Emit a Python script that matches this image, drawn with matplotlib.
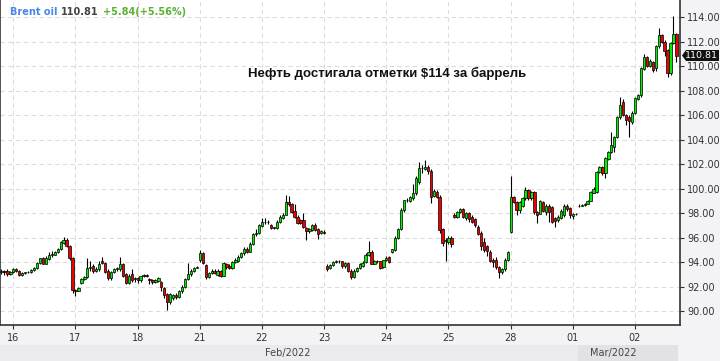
import numpy as np
import matplotlib.pyplot as plt
from matplotlib.patches import Rectangle, Polygon

# --------------------------------
# Hourly Brent candles
# --------------------------------
opens = [
    93.20, 93.25, 93.30, 93.05, 93.20, 93.45, 93.30, 92.95, 93.10, 93.15,
    93.15, 93.35, 93.50, 93.90, 94.30, 93.85, 94.25, 94.55, 94.60, 94.80,
    95.05, 95.55, 95.80, 95.30, 94.30, 91.70, 91.65, 92.30, 92.60, 92.75,
    93.50, 93.65, 93.30, 93.40, 94.10, 93.90, 93.30, 92.70, 93.20, 93.40,
    93.40, 93.80, 93.00, 92.30, 93.00, 92.60, 92.70, 92.50, 92.85, 92.95,
    92.60, 92.55, 92.40, 92.45, 92.35, 91.90, 91.40, 90.75, 91.05, 91.30,
    91.15, 91.60, 92.00, 92.60, 93.00, 93.30, 93.55, 94.15, 94.70, 93.75,
    92.80, 93.10, 93.30, 92.95, 93.30, 92.90, 93.85, 93.70, 93.50, 94.00,
    94.10, 94.40, 94.70, 95.10, 94.85, 95.50, 96.30, 96.40, 96.95, 97.30,
    97.25, 97.05, 96.85, 96.80, 97.30, 97.60, 97.85, 98.90, 98.70, 98.20,
    97.70, 97.40, 97.40, 96.80, 96.55, 96.60, 97.00, 96.70, 96.40, 96.45,
    93.70, 93.50, 93.75, 94.00, 94.10, 94.05, 93.70, 93.95, 93.30, 92.80,
    93.30, 93.50, 93.70, 94.00, 94.60, 94.85, 93.85, 94.10, 94.05, 93.60,
    94.15, 94.40, 94.80, 95.00, 96.00, 96.70, 98.25, 99.05, 98.95, 99.20,
    99.60, 100.50, 101.70, 101.60, 101.75, 101.45, 99.40, 99.70, 99.30, 96.70,
    95.70, 95.60, 96.00, 97.85, 97.65, 98.10, 98.30, 97.60, 98.00, 97.70,
    97.50, 96.90, 96.40, 95.60, 95.30, 94.80, 94.20, 94.20, 93.60, 93.15,
    93.40, 94.20, 96.45, 99.30, 98.90, 98.25, 98.60, 99.20, 99.85, 99.20,
    99.70, 98.10, 97.95, 98.90, 98.05, 98.55, 98.50, 97.60, 97.40, 97.60,
    97.80, 98.60, 98.45, 97.75, 97.90, 98.55, 98.60, 98.65, 98.75, 99.00,
    99.65, 99.70, 101.35, 101.75, 101.30, 102.40, 103.00, 103.40, 104.20, 105.80,
    107.10, 106.00, 105.80, 105.40, 106.20, 107.30, 107.60, 109.75, 110.70, 110.00,
    110.30, 109.80, 111.60, 112.50, 112.00, 111.30, 109.40, 111.90, 112.60,
]
highs = [
    93.40, 93.35, 93.40, 93.30, 93.50, 93.55, 93.35, 93.15, 93.20, 93.25,
    93.40, 93.60, 94.00, 94.35, 94.40, 94.50, 94.80, 94.90, 94.90, 95.15,
    95.70, 96.05, 95.95, 95.40, 94.40, 91.80, 92.00, 92.70, 92.90, 94.30,
    94.10, 93.80, 93.60, 94.10, 94.40, 94.00, 93.40, 93.30, 93.50, 93.60,
    94.40, 93.90, 93.10, 93.00, 93.40, 92.80, 92.80, 92.90, 93.00, 93.00,
    92.70, 92.60, 92.60, 92.80, 92.45, 92.00, 91.50, 91.45, 91.40, 91.45,
    91.70, 92.10, 92.70, 93.90, 93.40, 93.60, 93.70, 94.95, 94.80, 93.80,
    93.20, 93.40, 93.40, 93.40, 93.35, 94.00, 93.90, 93.80, 94.10, 94.30,
    94.60, 94.80, 95.20, 95.20, 95.60, 96.40, 96.70, 97.10, 97.60, 97.60,
    97.40, 97.10, 96.90, 97.40, 97.80, 98.00, 99.45, 99.40, 98.80, 98.70,
    97.80, 97.50, 98.00, 96.90, 96.80, 97.10, 97.20, 96.80, 96.60, 96.60,
    93.80, 93.80, 94.10, 94.20, 94.15, 94.10, 94.00, 94.00, 93.40, 93.40,
    93.60, 93.90, 94.10, 94.70, 95.75, 95.00, 94.20, 94.20, 94.10, 94.20,
    94.50, 94.50, 95.10, 96.10, 96.80, 98.40, 99.10, 99.20, 99.40, 100.40,
    101.00, 102.20, 101.90, 102.30, 101.90, 101.60, 100.00, 99.90, 99.50, 96.80,
    96.00, 96.10, 96.10, 98.00, 98.20, 98.40, 98.40, 98.10, 98.10, 97.80,
    97.60, 97.00, 96.50, 96.00, 95.40, 95.00, 94.30, 94.40, 93.70, 93.50,
    94.30, 94.90, 101.00, 99.40, 99.00, 99.00, 99.30, 100.10, 99.95, 99.80,
    99.80, 98.20, 99.10, 99.00, 98.70, 98.70, 98.60, 97.70, 97.80, 98.30,
    98.70, 98.70, 98.50, 98.00, 98.00, 98.70, 98.75, 98.80, 99.05, 99.80,
    100.10, 101.45, 101.85, 101.80, 102.60, 103.10, 104.60, 104.30, 105.90, 107.50,
    107.30, 106.10, 106.00, 106.30, 107.50, 107.70, 109.90, 111.00, 110.80, 110.60,
    110.40, 111.70, 113.10, 112.60, 112.10, 111.40, 112.00, 114.10, 112.70,
]
lows = [
    93.00, 92.95, 92.85, 92.95, 93.10, 93.20, 92.85, 92.90, 93.05, 93.10,
    93.10, 93.30, 93.45, 93.85, 93.80, 93.80, 94.20, 94.40, 94.55, 94.70,
    95.00, 95.50, 95.20, 94.20, 91.50, 91.20, 91.60, 92.20, 92.50, 92.70,
    93.30, 93.10, 93.20, 93.30, 93.80, 93.10, 92.50, 92.50, 93.10, 93.30,
    93.30, 92.80, 92.20, 92.20, 92.40, 92.40, 92.30, 92.40, 92.80, 92.80,
    92.20, 92.20, 92.30, 92.40, 91.60, 91.10, 90.10, 90.60, 90.90, 91.00,
    91.10, 91.50, 91.90, 92.50, 92.90, 93.20, 93.50, 94.00, 93.80, 92.60,
    92.70, 93.00, 93.00, 92.90, 92.80, 92.85, 93.40, 93.40, 93.40, 93.90,
    94.00, 94.30, 94.60, 94.70, 94.80, 95.40, 96.10, 96.30, 96.90, 97.10,
    97.10, 96.70, 96.70, 96.70, 97.20, 97.50, 97.80, 98.60, 98.00, 97.60,
    97.10, 97.10, 96.80, 95.80, 96.40, 96.50, 96.50, 95.90, 96.30, 96.30,
    93.30, 93.40, 93.70, 93.95, 93.90, 93.50, 93.50, 93.20, 92.60, 92.70,
    93.20, 93.40, 93.60, 93.90, 94.50, 93.80, 93.80, 93.90, 93.40, 93.50,
    94.10, 93.90, 94.70, 94.90, 95.90, 96.60, 98.10, 98.90, 98.90, 99.10,
    99.50, 100.40, 101.30, 101.50, 101.20, 98.80, 99.30, 99.20, 96.40, 95.30,
    94.10, 95.50, 95.20, 97.60, 97.60, 98.00, 97.60, 97.40, 97.30, 97.20,
    96.90, 96.20, 95.00, 94.80, 94.50, 94.00, 93.60, 93.40, 92.70, 93.00,
    93.30, 94.10, 96.40, 98.80, 97.80, 98.00, 98.50, 99.10, 99.10, 99.10,
    97.90, 97.20, 97.90, 98.10, 97.80, 97.30, 97.20, 96.90, 97.30, 97.50,
    97.70, 98.20, 97.60, 97.50, 97.85, 98.50, 98.55, 98.60, 98.70, 98.95,
    99.60, 99.60, 101.30, 101.10, 100.90, 102.30, 102.90, 103.00, 104.10, 105.70,
    105.90, 105.20, 104.20, 105.30, 106.10, 107.20, 107.50, 109.70, 109.90, 109.90,
    109.50, 109.60, 111.50, 111.90, 110.80, 109.10, 109.30, 111.80, 110.30,
]
closes = [
    93.25, 93.15, 93.05, 93.20, 93.40, 93.30, 92.95, 93.10, 93.15, 93.20,
    93.35, 93.50, 93.90, 94.30, 93.85, 94.30, 94.55, 94.65, 94.80, 95.05,
    95.60, 95.80, 95.30, 94.30, 91.70, 91.65, 91.90, 92.60, 92.80, 93.50,
    93.60, 93.30, 93.40, 93.85, 93.90, 93.20, 92.70, 93.20, 93.40, 93.50,
    93.80, 92.90, 92.30, 92.90, 92.50, 92.70, 92.50, 92.85, 92.95, 92.85,
    92.50, 92.40, 92.50, 92.70, 91.95, 91.30, 90.75, 91.35, 91.30, 91.15,
    91.60, 92.00, 92.60, 93.05, 93.30, 93.55, 93.60, 94.70, 93.90, 92.75,
    93.10, 93.30, 93.10, 93.30, 92.90, 93.90, 93.60, 93.50, 94.00, 94.15,
    94.45, 94.70, 95.10, 94.85, 95.50, 96.30, 96.40, 97.00, 97.30, 97.25,
    97.30, 96.80, 96.80, 97.30, 97.65, 97.85, 98.90, 98.70, 98.10, 97.70,
    97.20, 97.20, 96.90, 96.55, 96.70, 97.00, 96.60, 96.30, 96.50, 96.40,
    93.45, 93.75, 94.00, 94.10, 94.05, 93.65, 93.90, 93.30, 92.80, 93.30,
    93.50, 93.80, 93.95, 94.60, 94.85, 93.85, 94.10, 94.05, 93.50, 94.15,
    94.35, 94.00, 95.05, 96.00, 96.70, 98.25, 99.05, 99.05, 99.30, 99.60,
    100.90, 101.70, 101.65, 101.75, 101.40, 99.30, 99.80, 99.30, 96.60, 95.55,
    95.80, 95.95, 95.50, 97.65, 98.10, 98.30, 97.70, 98.00, 97.50, 97.30,
    97.00, 96.30, 95.30, 95.00, 94.90, 94.10, 94.00, 93.60, 93.20, 93.40,
    94.20, 94.80, 99.30, 98.90, 98.25, 98.90, 99.20, 99.90, 99.20, 99.70,
    98.10, 97.80, 98.95, 98.20, 98.60, 98.10, 97.30, 97.35, 97.65, 98.20,
    98.60, 98.35, 97.80, 97.95, 97.95, 98.60, 98.65, 98.75, 99.00, 99.70,
    100.00, 101.35, 101.75, 101.25, 102.50, 103.00, 103.55, 104.20, 105.80, 106.80,
    106.00, 105.60, 105.50, 106.20, 107.40, 107.60, 109.80, 110.70, 110.00, 110.40,
    109.70, 111.60, 112.50, 112.00, 111.20, 109.40, 111.90, 112.60, 110.81,
]

day_ticks = [4, 25, 46, 67, 88, 109, 130, 151, 172, 193, 214]
day_labels = ["16", "17", "18", "21", "22", "23", "24", "25", "28", "01", "02"]
price_ticks = [90, 92, 94, 96, 98, 100, 102, 104, 106, 108, 110, 112, 114]

last_price = 110.81
change = 5.84
change_pct = 5.56

opens = np.array(opens)
highs = np.array(highs)
lows = np.array(lows)
closes = np.array(closes)
idx = np.arange(len(closes))

# --------------------------------
# Figure
# --------------------------------
W, H = 720, 361
fig = plt.figure(figsize=(7.2, 3.61), dpi=100)
fig.patch.set_facecolor("#f3f3f5")

ax = fig.add_axes([0, 1 - 325 / H, 680 / W, 325 / H])
ax.set_facecolor("white")

up = closes >= opens
body_col = np.where(up, "#00ee00", "#ee0000")
bottoms = np.minimum(opens, closes)
heights = np.maximum(np.abs(closes - opens), 0.04)

ax.vlines(idx, lows, highs, color="black", linewidth=0.8, zorder=2)
ax.bar(idx, heights, bottom=bottoms, width=0.78, color=body_col,
       edgecolor="black", linewidth=0.5, zorder=3)

ax.set_xlim(-0.5, 229.2)
ax.set_ylim(88.86, 115.39)

ax.yaxis.tick_right()
ax.set_yticks(price_ticks)
ax.set_yticklabels([f"{v:.2f}" for v in price_ticks])
ax.set_xticks(day_ticks)
ax.set_xticklabels(day_labels)
ax.tick_params(axis="both", colors="#333333", labelsize=7, length=3,
               direction="out", width=0.8)
ax.tick_params(axis="x", pad=3)
ax.tick_params(axis="y", pad=2)

ax.grid(True, linestyle=(0, (4, 3)), color="#dddddd", linewidth=0.8, zorder=0)
ax.set_axisbelow(True)

for side in ["left", "bottom", "right"]:
    ax.spines[side].set_color("#333333")
    ax.spines[side].set_linewidth(1.2)
ax.spines["top"].set_visible(False)

# --------------------------------
# Bottom month band
# --------------------------------
fig.patches.append(Rectangle((0, 0), 578 / W, 16 / H, transform=fig.transFigure,
                             facecolor="#ebebed", edgecolor="none", zorder=0))
fig.patches.append(Rectangle((578 / W, 0), 100 / W, 16 / H, transform=fig.transFigure,
                             facecolor="#e2e2e4", edgecolor="none", zorder=0))
fig.text(288 / W, 1 - 353 / H, "Feb/2022", ha="center", va="center",
         fontsize=7, color="#444444")
fig.text(613 / W, 1 - 353 / H, "Mar/2022", ha="center", va="center",
         fontsize=7, color="#444444")

# --------------------------------
# Last price marker
# --------------------------------
yc = 1 - 55.5 / H
marker = Polygon([(682 / W, yc), (686 / W, yc + 5.5 / H), (719 / W, yc + 5.5 / H),
                  (719 / W, yc - 5.5 / H), (686 / W, yc - 5.5 / H)],
                 closed=True, transform=fig.transFigure,
                 facecolor="#111111", edgecolor="none")
fig.patches.append(marker)
fig.text(701.5 / W, yc, f"{last_price:.2f}", ha="center", va="center",
         fontsize=6.8, color="white")

# --------------------------------
# Header and headline
# --------------------------------
hy = 1 - 12 / H
fig.text(10 / W, hy, "Brent oil", ha="left", va="center", fontsize=7,
         fontweight="bold", color="#4a86e8")
fig.text(61 / W, hy, f"{last_price:.2f}", ha="left", va="center", fontsize=7,
         fontweight="bold", color="#444444")
fig.text(103 / W, hy, f"+{change:.2f}(+{change_pct:.2f}%)", ha="left",
         va="center", fontsize=7, fontweight="bold", color="#5cb033")

fig.text(387 / W, 1 - 73 / H, "Нефть достигала отметки $114 за баррель",
         ha="center", va="center", fontsize=9.5, fontweight="bold",
         family="Liberation Sans", color="#111111")

plt.savefig("out.png", dpi=100, facecolor=fig.get_facecolor())
plt.close()
